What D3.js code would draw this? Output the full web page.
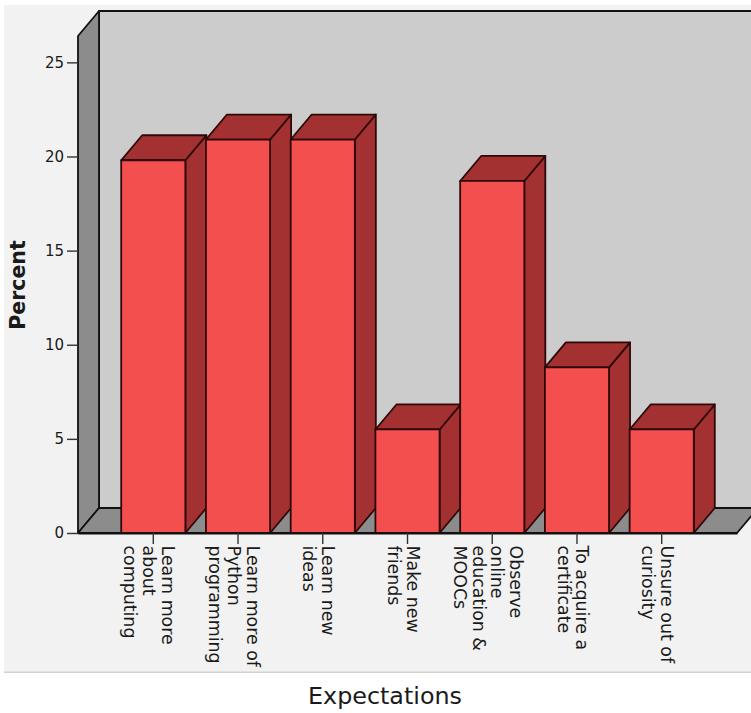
<!DOCTYPE html>
<html>
<head>
<meta charset="utf-8">
<style>
  html, body { margin: 0; padding: 0; background: #fff; }
  svg { display: block; }
  text { font-family: "DejaVu Sans", sans-serif; fill: #1a1a1a; }
</style>
<script src="https://cdn.jsdelivr.net/npm/d3@7"></script>
</head>
<body>
<div class="chart-area"></div>
<script>
const categories = [
  "Learn more about computing",
  "Learn more of Python programming",
  "Learn new ideas",
  "Make new friends",
  "Observe online education & MOOCs",
  "To acquire a certificate",
  "Unsure out of curiosity"
];
const categoryLines = [
  ["Learn more", "about", "computing"],
  ["Learn more of", "Python", "programming"],
  ["Learn new", "ideas"],
  ["Make new", "friends"],
  ["Observe", "online", "education &", "MOOCs"],
  ["To acquire a", "certificate"],
  ["Unsure out of", "curiosity"]
];
const percents = [19.8, 20.9, 20.9, 5.5, 18.7, 8.8, 5.5];
const percentTicks = [0, 5, 10, 15, 20, 25];
const yTitle = "Percent";
const xTitle = "Expectations";

const width = 751, height = 713;
const depth = { x: 21, y: -25 };   // offset of the 3D back plane
const colors = { panel: "#f2f2f2", back: "#cccccc", wall: "#8c8c8c", front: "#f44f4f", shade: "#a33131", edge: "#111", barEdge: "#2e0808" };

const svg = d3.select(".chart-area").append("svg").attr("width", width).attr("height", height);

const x = d3.scaleBand().domain(categories).range([78, 737]).paddingInner(0.243).paddingOuter(0.51);
const y = d3.scaleLinear().domain([0, 26.4]).range([533, 36]);

const poly = pts => pts.map(p => p.join(",")).join(" ");
const back = ([px, py]) => [px + depth.x, py + depth.y];

svg.append("rect").attr("x", 4).attr("y", 5).attr("width", width - 4).attr("height", 667).attr("fill", colors.panel);
svg.append("rect").attr("x", 4).attr("y", 671.5).attr("width", width - 4).attr("height", 1.5).attr("fill", "#d2d2d2");

svg.append("defs").append("clipPath").attr("id", "panel")
  .append("rect").attr("x", 0).attr("y", 0).attr("width", width).attr("height", 671.5);

// walls
const [x0, x1] = x.range();
const [y0, y1] = y.range();
const walls = svg.append("g").attr("stroke", colors.edge).attr("stroke-width", 1.8).attr("stroke-linejoin", "round");
walls.append("polygon").attr("fill", colors.back)
  .attr("points", poly([back([x0, y0]), back([x1, y0]), back([x1, y1]), back([x0, y1])]));
walls.append("polygon").attr("fill", colors.wall)
  .attr("points", poly([[x0, y0], [x0, y1], back([x0, y1]), back([x0, y0])]));
walls.append("polygon").attr("fill", colors.wall)
  .attr("points", poly([[x0, y0], back([x0, y0]), back([x1, y0]), [x1, y0]]));

// bars
const bars = svg.append("g").selectAll("g")
  .data(categories.map((c, i) => ({ c, v: percents[i] })))
  .join("g")
  .attr("stroke", colors.barEdge).attr("stroke-width", 1.8).attr("stroke-linejoin", "round");

bars.append("polygon").attr("fill", colors.shade).attr("points", d => {
  const l = x(d.c), r = l + x.bandwidth(), t = y(d.v);
  return poly([[r, y0], [r, t], back([r, t]), back([r, y0])]);
});
bars.append("polygon").attr("fill", colors.shade).attr("points", d => {
  const l = x(d.c), r = l + x.bandwidth(), t = y(d.v);
  return poly([[l, t], back([l, t]), back([r, t]), [r, t]]);
});
bars.append("rect").attr("fill", colors.front)
  .attr("x", d => x(d.c)).attr("y", d => y(d.v))
  .attr("width", x.bandwidth()).attr("height", d => y0 - y(d.v));

// axes
const yAxis = svg.append("g").attr("transform", `translate(${x0},0)`)
  .call(d3.axisLeft(y).tickValues(percentTicks).tickSize(11).tickPadding(3));
yAxis.select(".domain").remove();
yAxis.selectAll(".tick line").attr("stroke", "#333").attr("stroke-width", 1.4);
yAxis.selectAll(".tick text").style("font-size", "15px").attr("fill", "#1a1a1a");

const xAxis = svg.append("g").attr("transform", `translate(0,${y0})`)
  .call(d3.axisBottom(x).tickSizeInner(11).tickSizeOuter(0).tickFormat(""));
xAxis.select(".domain").attr("stroke", colors.edge).attr("stroke-width", 1.8);
xAxis.selectAll(".tick line").attr("stroke", "#333").attr("stroke-width", 1.4);

// rotated, wrapped category labels; first line sits on the right
const lineStep = 18.7;
const labels = svg.append("g").attr("clip-path", "url(#panel)");
categories.forEach((c, i) => {
  const lines = categoryLines[i];
  const cx = x(c) + x.bandwidth() / 2 - 4;
  lines.forEach((line, j) => {
    const lx = cx + ((lines.length - 1) / 2 - j) * lineStep;
    labels.append("text")
      .attr("transform", `translate(${lx},545.5) rotate(90)`)
      .attr("dy", "0.35em")
      .style("font-size", "17.4px")
      .text(line);
  });
});

svg.append("text")
  .attr("transform", "translate(18,285) rotate(-90)")
  .attr("text-anchor", "middle").attr("dy", "0.35em")
  .style("font-size", "20.5px").style("font-weight", "bold")
  .text(yTitle);

svg.append("text")
  .attr("x", 385).attr("y", 704)
  .attr("text-anchor", "middle")
  .style("font-size", "23.8px")
  .text(xTitle);
</script>
</body>
</html>
